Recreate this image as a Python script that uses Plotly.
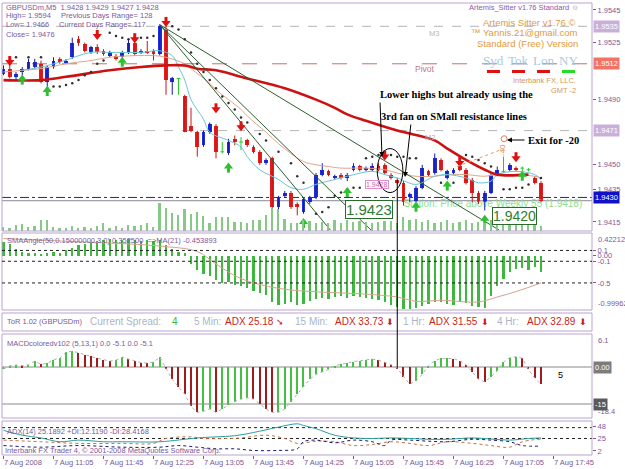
import plotly.graph_objects as go

W, H = 625, 469
ML, MR, MT, MB = 2, 33, 3, 14
PW, PH = W - ML - MR, H - MT - MB


def fx(px):
    return (px - ML) / PW


def fy(py):
    return (H - MB - py) / PH


PURPLE = "#7A5A9A"
FRAME = "#BBA3CF"
SANS = "Liberation Sans"
SERIF = "Liberation Serif"

# ---------------- data ----------------
x_labels = ["7 Aug 2008", "7 Aug 11:05", "7 Aug 11:45", "7 Aug 12:25", "7 Aug 13:05",
            "7 Aug 13:45", "7 Aug 14:25", "7 Aug 15:05", "7 Aug 15:45", "7 Aug 16:25",
            "7 Aug 17:05", "7 Aug 17:45"]
x_label_bars = [0, 8, 16, 24, 32, 40, 48, 56, 64, 72, 80, 88]

opens = [1.9506, 1.9509, 1.9504, 1.9507, 1.9509, 1.9510, 1.9512, 1.9501, 1.9510, 1.9515,
         1.9513, 1.9516, 1.9527, 1.9524, 1.9519, 1.9522, 1.9520, 1.9517, 1.9517, 1.9516,
         1.9519, 1.9525, 1.9519, 1.9520, 1.9520, 1.9518, 1.9533, 1.9501, 1.9503, 1.9492,
         1.9474, 1.9470, 1.9462, 1.9470, 1.9474, 1.9458, 1.9457, 1.9466, 1.9464, 1.9465,
         1.9461, 1.9458, 1.9451, 1.9454, 1.9424, 1.9431, 1.9433, 1.9426, 1.9421, 1.9427,
         1.9430, 1.9444, 1.9446, 1.9442, 1.9444, 1.9442, 1.9447, 1.9449, 1.9447, 1.9447,
         1.9449, 1.9450, 1.9444, 1.9441, 1.9439, 1.9430, 1.9428, 1.9436, 1.9446, 1.9445,
         1.9453, 1.9442, 1.9445, 1.9449, 1.9447, 1.9441, 1.9433, 1.9427, 1.9433, 1.9444,
         1.9446, 1.9447, 1.9448, 1.9448, 1.9447, 1.9442, 1.9439]
highs = [1.9511, 1.9513, 1.9507, 1.9510, 1.9515, 1.9515, 1.9514, 1.9511, 1.9516, 1.9516,
         1.9515, 1.9528, 1.9529, 1.9525, 1.9523, 1.9524, 1.9521, 1.9520, 1.9518, 1.9520,
         1.9527, 1.9527, 1.9521, 1.9526, 1.9521, 1.9536, 1.9535, 1.9504, 1.9503, 1.9493,
         1.9485, 1.9471, 1.9471, 1.9476, 1.9475, 1.9464, 1.9466, 1.9468, 1.9467, 1.9466,
         1.9462, 1.9459, 1.9454, 1.9455, 1.9431, 1.9434, 1.9434, 1.9427, 1.9430, 1.9431,
         1.9445, 1.9451, 1.9447, 1.9444, 1.9445, 1.9445, 1.9451, 1.9450, 1.9449, 1.9451,
         1.9451, 1.9451, 1.9445, 1.9442, 1.9440, 1.9433, 1.9437, 1.9450, 1.9447, 1.9457,
         1.9454, 1.9447, 1.9448, 1.9450, 1.9448, 1.9442, 1.9434, 1.9434, 1.9445, 1.9449,
         1.9455, 1.9451, 1.9449, 1.9449, 1.9448, 1.9443, 1.9440]
lows = [1.9505, 1.9503, 1.9502, 1.9505, 1.9508, 1.9509, 1.9500, 1.9498, 1.9509, 1.9512,
        1.9512, 1.9515, 1.9523, 1.9519, 1.9518, 1.9518, 1.9517, 1.9516, 1.9514, 1.9515,
        1.9518, 1.9517, 1.9518, 1.9518, 1.9514, 1.9517, 1.9493, 1.9493, 1.9493, 1.9470,
        1.9470, 1.9455, 1.9461, 1.9469, 1.9454, 1.9457, 1.9456, 1.9462, 1.9459, 1.9461,
        1.9457, 1.9450, 1.9450, 1.9415, 1.9418, 1.9430, 1.9423, 1.9419, 1.9420, 1.9426,
        1.9429, 1.9443, 1.9443, 1.9441, 1.9441, 1.9440, 1.9446, 1.9446, 1.9446, 1.9446,
        1.9446, 1.9444, 1.9441, 1.9438, 1.9425, 1.9427, 1.9427, 1.9435, 1.9443, 1.9444,
        1.9446, 1.9441, 1.9444, 1.9446, 1.9438, 1.9427, 1.9426, 1.9422, 1.9432, 1.9443,
        1.9445, 1.9446, 1.9446, 1.9446, 1.9446, 1.9438, 1.9427]
closes = [1.9509, 1.9504, 1.9506, 1.9509, 1.9513, 1.9513, 1.9501, 1.9510, 1.9514, 1.9513,
          1.9514, 1.9525, 1.9525, 1.9520, 1.9522, 1.9519, 1.9518, 1.9519, 1.9515, 1.9519,
          1.9525, 1.9518, 1.9520, 1.9519, 1.9518, 1.9535, 1.9502, 1.9503, 1.9503, 1.9470,
          1.9471, 1.9461, 1.9470, 1.9475, 1.9458, 1.9458, 1.9464, 1.9464, 1.9464, 1.9462,
          1.9458, 1.9451, 1.9453, 1.9424, 1.9430, 1.9433, 1.9424, 1.9424, 1.9429, 1.9430,
          1.9444, 1.9447, 1.9444, 1.9443, 1.9442, 1.9444, 1.9449, 1.9447, 1.9448, 1.9449,
          1.9447, 1.9445, 1.9442, 1.9439, 1.9427, 1.9432, 1.9436, 1.9448, 1.9444, 1.9454,
          1.9447, 1.9446, 1.9447, 1.9447, 1.9439, 1.9433, 1.9427, 1.9433, 1.9444, 1.9447,
          1.9446, 1.9450, 1.9447, 1.9448, 1.9447, 1.9439, 1.9428]
volumes = [12, 9, 18, 21, 12, 15, 33, 33, 12, 9, 9, 15, 9, 12, 9, 15, 24, 9, 15, 9,
           18, 15, 18, 24, 12, 84, 69, 54, 48, 66, 51, 57, 45, 24, 42, 42, 42, 27, 27, 24,
           33, 33, 48, 69, 66, 36, 24, 24, 33, 30, 24, 27, 24, 33, 24, 33, 27, 30, 27, 24,
           27, 30, 30, 24, 42, 33, 36, 27, 33, 24, 27, 33, 24, 27, 33, 24, 27, 24, 33, 36,
           24, 21, 24, 18, 24, 21, 15]

ma_red_x = [0, 6, 10, 17, 22, 26, 29, 31, 34, 39, 45, 50, 53, 55, 58, 63, 69, 71, 74, 77, 79, 84]
ma_red_y = [1.9502, 1.9502, 1.9504, 1.9508, 1.9510, 1.9511, 1.9511, 1.9509, 1.9508, 1.9503,
            1.9497, 1.9490, 1.9485, 1.9481, 1.9477, 1.9471, 1.9465, 1.9460, 1.9453, 1.9447,
            1.9444, 1.9444]
cyan_x = [3, 6, 9, 14, 17, 22, 25, 27, 28, 29, 30, 32, 33, 36, 38, 39, 41, 44, 46, 48,
          50, 53, 56, 59, 61, 63, 66, 69, 71, 74, 76, 78, 79, 82, 85, 86]
cyan_y = [1.9508, 1.9510, 1.9513, 1.9519, 1.9519, 1.9519, 1.9520, 1.9517, 1.9510, 1.9502,
          1.9490, 1.9478, 1.9470, 1.9465, 1.9461, 1.9455, 1.9447, 1.9441, 1.9436, 1.9435,
          1.9438, 1.9441, 1.9444, 1.9446, 1.9444, 1.9442, 1.9438, 1.9443, 1.9444, 1.9442,
          1.9439, 1.9440, 1.9444, 1.9446, 1.9444, 1.9441]
tan_x = [0, 3, 6, 10, 14, 17, 21, 24, 26, 29, 30, 33, 34, 36, 38, 39, 42, 44, 46, 48,
         50, 52, 54, 58, 61, 63, 66, 69, 71, 74, 77, 79, 82, 85, 86]
tan_y = [1.9507, 1.9508, 1.9509, 1.9512, 1.9514, 1.9516, 1.9517, 1.9517, 1.9516, 1.9512,
         1.9509, 1.9500, 1.9496, 1.9490, 1.9484, 1.9480, 1.9470, 1.9463, 1.9457, 1.9452,
         1.9450, 1.9449, 1.9448, 1.9448, 1.9447, 1.9445, 1.9443, 1.9443, 1.9444, 1.9444,
         1.9443, 1.9444, 1.9444, 1.9443, 1.9442]

sar_x = [2, 4, 6, 7, 8, 9, 10, 11, 12, 13, 14, 15, 16, 17, 18, 19, 20, 22, 23, 24,
         27, 28, 29, 30, 31, 32, 33, 34, 35, 36, 37, 38, 39, 41, 42, 44, 46, 47, 48, 50,
         51, 52, 53, 54, 55, 56, 57, 58, 59, 60, 61, 62, 63, 64, 65, 66, 70, 71, 72, 74,
         75, 76, 77, 78, 80, 81, 82, 83, 84, 86]
sar_y = [1.9516, 1.9516, 1.9516, 1.9497, 1.9498, 1.9498, 1.9499, 1.9500, 1.9502, 1.9505,
         1.9507, 1.9512, 1.9514, 1.9531, 1.9529, 1.9528, 1.9527, 1.9528, 1.9528, 1.9529,
         1.9535, 1.9533, 1.9527, 1.9519, 1.9512, 1.9507, 1.9502, 1.9497, 1.9492, 1.9488,
         1.9484, 1.9479, 1.9476, 1.9469, 1.9465, 1.9458, 1.9451, 1.9443, 1.9439, 1.9420,
         1.9421, 1.9424, 1.9431, 1.9433, 1.9435, 1.9436, 1.9436, 1.9454, 1.9455, 1.9456,
         1.9456, 1.9456, 1.9455, 1.9455, 1.9454, 1.9454, 1.9439, 1.9438, 1.9439, 1.9456,
         1.9455, 1.9453, 1.9451, 1.9449, 1.9435, 1.9435, 1.9436, 1.9436, 1.9438, 1.9442]

sell_x = [1, 15, 21, 26, 34, 38, 61, 73, 82]
sell_y = [1.9514, 1.9530, 1.9528, 1.9538, 1.9485, 1.9474, 1.9456, 1.9452, 1.9455]
buy_x = [3, 7, 19, 36, 48, 55, 66, 71, 77, 83]
buy_y = [1.9502, 1.9495, 1.9513, 1.9448, 1.9414, 1.9433, 1.9424, 1.9437, 1.9416, 1.9443]

fan_apex_x, fan_apex_y = 25, 1.9536
fan_end_x = [52.3, 58.8, 79.3]
fan_end_y = [1.9410, 1.9410, 1.9410]

sma_vals = [0.25, 0.22, 0.12, 0.08, 0.05, 0.06, 0.04, 0.05, 0.07, 0.06,
            0.10, 0.15, 0.20, 0.22, 0.25, 0.28, 0.30, 0.32, 0.30, 0.30,
            0.32, 0.30, 0.28, 0.30, 0.27, 0.30, 0.20, 0.12, 0.08, 0.05,
            -0.15, -0.27, -0.33, -0.38, -0.45, -0.50, -0.48, -0.53, -0.56, -0.60,
            -0.65, -0.68, -0.72, -0.85, -0.90, -0.88, -0.86, -0.90, -0.88, -0.84,
            -0.80, -0.78, -0.80, -0.76, -0.74, -0.77, -0.74, -0.76, -0.78, -0.80,
            -0.82, -0.86, -0.90, -0.95, -0.98, -0.99, -0.96, -0.92, -0.88, -0.86,
            -0.86, -0.88, -0.90, -0.85, -0.87, -0.92, -0.95, -0.96, -0.75, -0.55,
            -0.42, -0.30, -0.25, -0.22, -0.27, -0.20, -0.30]
sma_ma_x = [0, 10, 20, 25, 31, 34, 38, 44, 51, 57, 63, 66, 70, 76, 79, 82, 86]
sma_ma_y = [0.32, 0.27, 0.22, 0.18, 0.08, -0.15, -0.42, -0.60, -0.67, -0.70, -0.76, -0.84,
            -0.82, -0.85, -0.76, -0.66, -0.50]
sma_levels = [0.1, -0.1, -0.5]
sma_ticks = [0.1, 0.0, -0.1, -0.5]
sma_tick_text = ["0.1", "0.00", "-0.1", "-0.5"]

macd_vals = [-0.8, 0.5, 0.8, 0.6, 0.9, 2.4, 1.1, 1.5, 3.0, 3.5,
             6.0, 6.4, 5.8, 5.0, 4.4, 3.5, 3.0, 2.4, 2.8, 4.0,
             3.2, 2.4, 1.8, 1.6, 2.0, 4.0, -0.5, -5.0, -8.0, -11.0,
             -16.0, -18.4, -18.0, -17.0, -18.4, -17.0, -15.5, -14.0, -13.0, -12.5,
             -13.0, -15.0, -17.0, -18.4, -18.4, -17.0, -14.0, -11.0, -8.0, -5.0,
             -3.0, -2.0, -1.0, 0.5, 1.2, 1.6, 2.2, 2.5, 3.0, 3.2,
             2.8, 2.0, 1.0, -0.5, -4.0, -7.0, -5.5, -3.0, 0.5, 2.5,
             3.5, 3.6, 3.4, 2.5, 1.0, -2.0, -5.0, -6.0, -4.0, -1.5,
             2.0, 3.8, 4.2, 3.5, -1.0, -4.5, -7.0]
macd_levels = [0, -15]

adx_x = [0, 3, 6, 9, 12, 16, 19, 25, 31, 34, 37, 40, 44, 47, 48, 50, 53, 56, 59, 62,
         65, 68, 71, 75, 78, 81, 84, 86]
adx_v = [40, 31, 26, 19, 22, 19, 19, 19, 26, 28, 30, 36, 46, 52, 49, 43, 31, 26, 25, 26,
         25, 23.5, 23.5, 26, 24, 22, 25, 26]
mdi_x = [0, 6, 12, 19, 24, 26, 30, 32, 36, 38, 42, 45, 47, 50, 53, 56, 59, 62, 65, 68,
         71, 75, 78, 81, 83, 86]
mdi_v = [22, 19, 16, 16, 16, 25, 28, 25, 25, 26, 31, 25, 16, 20, 19, 12, 14, 19, 16, 12,
         19, 16, 12, 9, 19, 24]
pdi_x = [0, 6, 12, 19, 25, 28, 31, 34, 37, 40, 44, 47, 48, 50, 53, 56, 59, 61, 62, 65,
         68, 71, 75, 78, 81, 83, 86]
pdi_v = [12, 9, 12, 9, 9, 12, 9, 6, 6, 3, 3, 6, 19, 22, 17, 22, 19, 12, 22, 22,
         20, 19, 23.5, 22, 19, 12, 11]
adx_levels = [45, 25]
adx_ticks = [48, 25, 2]

price_ticks = [1.9545, 1.9525, 1.9490, 1.9450, 1.9435, 1.9415]
price_marks = [1.9535, 1.9512, 1.9471, 1.9430]
price_mark_colors = ["#C9AFD9", "#EF7466", "#C9AFD9", "#1010C8"]
gray_levels = [1.9535, 1.9471]
pivot_level = 1.9512
blue_level = 1.9430
bid_level = 1.9428

# ---------------- figure ----------------
bars = list(range(len(opens)))
D_MAIN = [fy(231), fy(3)]
D_SMA = [fy(310), fy(233)]
D_TOR = [fy(331), fy(313)]
D_MACD = [fy(418), fy(334)]
D_ADX = [fy(455), fy(421)]
PRICE_RANGE = [1.940942, 1.954929]
PX = (PRICE_RANGE[1] - PRICE_RANGE[0]) / 228.0   # price per screen pixel (for glyph sizing)

fig = go.Figure()
NOHOV = dict(hoverinfo="skip", showlegend=False)

# text behind candles
fig.add_trace(go.Scatter(x=[92.6], y=[1.94254], mode="text",
                         text=["Station: Price above Weekly 55 (1.9418)"],
                         textposition="middle left",
                         textfont=dict(family=SANS, size=10, color="#8EE08E"), **NOHOV))

# volumes
fig.add_trace(go.Bar(x=bars, y=volumes, width=0.28, yaxis="y6",
                     marker=dict(color="#86C986", line=dict(width=0)), **NOHOV))

up = [i for i in bars if closes[i] > opens[i] + 1e-9]
dn = [i for i in bars if closes[i] < opens[i] - 1e-9]
dj = [i for i in bars if abs(closes[i] - opens[i]) <= 1e-9]


def wick(idx):
    xs, ys = [], []
    for i in idx:
        xs += [i, i, None]
        ys += [lows[i], highs[i], None]
    return xs, ys


wx, wy = wick(up)
fig.add_trace(go.Scatter(x=wx, y=wy, mode="lines", line=dict(color="#1A1AB0", width=1), **NOHOV))
wx, wy = wick(dn)
fig.add_trace(go.Scatter(x=wx, y=wy, mode="lines", line=dict(color="#C81414", width=1), **NOHOV))
wx, wy = wick(dj)
for i in dj:
    wx += [i - 0.3, i + 0.3, None]
    wy += [opens[i], opens[i], None]
fig.add_trace(go.Scatter(x=wx, y=wy, mode="lines", line=dict(color="#22CC22", width=1), **NOHOV))

fig.add_trace(go.Bar(x=up, base=[opens[i] for i in up], y=[closes[i] - opens[i] for i in up],
                     width=0.62, marker=dict(color="#1E2ED8", line=dict(width=0)), **NOHOV))
fig.add_trace(go.Bar(x=dn, base=[closes[i] for i in dn], y=[opens[i] - closes[i] for i in dn],
                     width=0.62, marker=dict(color="#E41E1E", line=dict(width=0)), **NOHOV))

# moving averages
fig.add_trace(go.Scatter(x=tan_x, y=tan_y, mode="lines", line=dict(color="#E2A586", width=1, shape="spline"), **NOHOV))
fig.add_trace(go.Scatter(x=cyan_x, y=cyan_y, mode="lines", line=dict(color="#66C6D8", width=1, shape="spline"), **NOHOV))
fig.add_trace(go.Scatter(x=ma_red_x, y=ma_red_y, mode="lines", line=dict(color="#CC1111", width=2.6, shape="spline"), **NOHOV))

# fan lines
for ex, ey in zip(fan_end_x, fan_end_y):
    fig.add_trace(go.Scatter(x=[fan_apex_x, ex], y=[fan_apex_y, ey], mode="lines",
                             line=dict(color="#2E5E2E", width=1), **NOHOV))

# parabolic SAR
fig.add_trace(go.Scatter(x=sar_x, y=sar_y, mode="markers",
                         marker=dict(symbol="circle", size=2.5, color="#303030"), **NOHOV))


# signal arrows (stem + head)
def arrow_traces(xs, ys, direction, color):
    sx, sy = [], []
    for x, p in zip(xs, ys):
        if direction == "down":
            sx += [x, x, None]
            sy += [p - 0.5 * PX, p + 4.5 * PX, None]
        else:
            sx += [x, x, None]
            sy += [p + 0.5 * PX, p - 4.5 * PX, None]
    fig.add_trace(go.Scatter(x=sx, y=sy, mode="lines", line=dict(color=color, width=3), **NOHOV))
    hy = [p - 1.5 * PX if direction == "down" else p + 1.5 * PX for p in ys]
    fig.add_trace(go.Scatter(x=xs, y=hy, mode="markers",
                             marker=dict(symbol="triangle-" + direction, size=8, color=color,
                                         line=dict(width=0)), **NOHOV))


arrow_traces(sell_x, sell_y, "down", "#E01010")
arrow_traces(buy_x, buy_y, "up", "#2EC02E")

# trade line and exit mark
fig.add_trace(go.Scatter(x=[72.6, 79.4], y=[1.9449, 1.9459], mode="lines",
                         line=dict(color="#E89A50", width=1, dash="dot"), **NOHOV))
fig.add_trace(go.Scatter(x=[80.1], y=[1.9466], mode="markers",
                         marker=dict(symbol="circle-open", size=6, color="#E08050", line=dict(width=1)), **NOHOV))

# SMA angle panel
fig.add_trace(go.Bar(x=bars, y=sma_vals, width=0.38, yaxis="y2",
                     marker=dict(color="#3CB83C", line=dict(width=0)), **NOHOV))
fig.add_trace(go.Scatter(x=sma_ma_x, y=sma_ma_y, yaxis="y2", mode="lines",
                         line=dict(color="#D4A48E", width=1, shape="spline"), **NOHOV))

# MACD panel
macd_colors = ["#44C044" if (i == 0 or v >= macd_vals[i - 1]) else "#A01C1C"
               for i, v in enumerate(macd_vals)]
fig.add_trace(go.Bar(x=bars, y=macd_vals, width=0.22, yaxis="y4",
                     marker=dict(color=macd_colors, line=dict(width=0)), **NOHOV))
fig.add_trace(go.Scatter(x=bars, y=macd_vals, yaxis="y4", mode="lines",
                         line=dict(color="#B0B0B0", width=1, dash="dot"), **NOHOV))

# ADX panel
fig.add_trace(go.Scatter(x=mdi_x, y=mdi_v, yaxis="y5", mode="lines",
                         line=dict(color="#C87044", width=1, dash="dot", shape="spline"), **NOHOV))
fig.add_trace(go.Scatter(x=pdi_x, y=pdi_v, yaxis="y5", mode="lines",
                         line=dict(color="#18186E", width=1, dash="dot", shape="spline"), **NOHOV))
fig.add_trace(go.Scatter(x=adx_x, y=adx_v, yaxis="y5", mode="lines",
                         line=dict(color="#2A9E9E", width=1, shape="spline"), **NOHOV))

# ---------------- shapes ----------------
shapes = []
for d in (D_MAIN, D_SMA, D_TOR, D_MACD, D_ADX):
    shapes.append(dict(type="rect", xref="paper", yref="paper", x0=0, x1=1, y0=d[0], y1=d[1],
                       line=dict(color=FRAME, width=1), layer="above"))
for lv in gray_levels:
    shapes.append(dict(type="line", xref="paper", yref="y", x0=0, x1=1, y0=lv, y1=lv,
                       line=dict(color="#B4B4B4", width=1, dash="dash"), layer="below"))
shapes.append(dict(type="line", xref="paper", yref="y", x0=0, x1=1, y0=pivot_level, y1=pivot_level,
                   line=dict(color="#C07272", width=1, dash="longdash"), layer="below"))
shapes.append(dict(type="line", xref="paper", yref="y", x0=0, x1=1, y0=blue_level, y1=blue_level,
                   line=dict(color="#24248A", width=1, dash="dashdot"), layer="below"))
shapes.append(dict(type="line", xref="paper", yref="y", x0=0, x1=1, y0=bid_level, y1=bid_level,
                   line=dict(color="#8A8A9A", width=1), layer="below"))
for lv in sma_levels:
    shapes.append(dict(type="line", xref="paper", yref="y2", x0=0, x1=1, y0=lv, y1=lv,
                       line=dict(color="#202020", width=1, dash="dot"), layer="above"))
for lv in macd_levels:
    shapes.append(dict(type="line", xref="paper", yref="y4", x0=0, x1=1, y0=lv, y1=lv,
                       line=dict(color="#8A8A8A", width=1), layer="below"))
for lv in adx_levels:
    shapes.append(dict(type="line", xref="paper", yref="y5", x0=0, x1=1, y0=lv, y1=lv,
                       line=dict(color="#202020", width=1, dash="dot"), layer="below"))
# hand drawn objects
shapes.append(dict(type="line", xref="x", yref="paper", x0=63, x1=63, y0=fy(367), y1=fy(180),
                   line=dict(color="black", width=1)))
shapes.append(dict(type="circle", xref="x", yref="y", x0=59.8, x1=63.9, y0=1.9433, y1=1.9460,
                   line=dict(color="black", width=1)))
# session indicator bars
for (a, b), col in zip([(487, 500), (512, 525), (537, 550), (562, 575)],
                       ["#DD1111", "#DD1111", "#DD1111", "#22DD22"]):
    shapes.append(dict(type="rect", xref="paper", yref="paper", x0=fx(a), x1=fx(b),
                       y0=fy(73), y1=fy(70), fillcolor=col, line=dict(width=0)))

# ---------------- annotations ----------------
ann = []


def txt(s, x, y, size=7.5, color=PURPLE, xanchor="left", family=SANS, **kw):
    d = dict(text=s, x=fx(x), y=fy(y), xref="paper", yref="paper", xanchor=xanchor,
             yanchor="middle", showarrow=False, font=dict(family=family, size=size, color=color))
    d.update(kw)
    ann.append(d)


# header
txt("GBPUSDm,M5  1.9428 1.9429 1.9427 1.9428", 4, 7)
txt("High= 1.9594", 4, 16)
txt("Previous Days Range= 128", 59, 16)
txt("Low= 1.9466", 4, 25)
txt("Current Days Range= 117", 57, 25)
txt("Close= 1.9476", 4, 34)

# top right block
txt("Artemis_Sitter v1.76 Standard \u263A", 581, 8, size=7.5, color="#8A5AAA", xanchor="right")
txt("Artemis Sitter v1.76 \u00A9", 578, 22, size=9.5, color="#E39A3A", xanchor="right")
txt("\u2122 Yannis.21@gmail.com", 580, 32, size=9.5, color="#E39A3A", xanchor="right")
txt("Standard (Free) Version", 580, 43, size=9.5, color="#E39A3A", xanchor="right")
for name, cx in zip(["Syd", "Tok", "Lon", "NY"], [493.5, 518.5, 543.5, 568.5]):
    txt(name, cx, 60, size=13, color="#A6CCE2", xanchor="center", family=SERIF)
txt("Interbank FX, LLC.", 578, 80, size=7.5, color="#D4985A", xanchor="right")
txt("GMT -2", 578, 90, size=7.5, color="#D4985A", xanchor="right")
txt("M3", 427, 33, size=7.5, color="#B8B8B8")
txt("Pivot", 413, 69, size=8.5, color="#C47A7A")
txt("M2", 423, 137, size=7.5, color="#B8A8C8")

# chart notes
txt("<b>Lower highs but already using the</b>", 378, 94, size=10.5, color="black", family=SERIF)
txt("<b>3rd fan on SMall resistance lines</b>", 379, 117, size=10.5, color="black", family=SERIF)
txt("<b>Exit for -20</b>", 526, 140, size=10.5, color="black", family=SERIF)
txt("-40", 502, 150, size=8, color="#E08850", xanchor="center", textangle=-90)
txt("1.9423", 345, 209, size=15, color="#2E7D32", bordercolor="#2A6A2A", borderwidth=1,
    bgcolor="white", borderpad=0)
txt("1.9420", 492, 215.5, size=14, color="#2E7D32", bordercolor="#2A6A2A", borderwidth=1,
    bgcolor="white", borderpad=0)
txt("1.9428", 365, 185, size=7, color="#D060B0", bordercolor="#E090C8", borderwidth=1,
    borderpad=0)

# arrows of the notes
for head, tail in [((382, 157), (380, 101)), ((405, 177), (411, 123)), ((507, 140), (526, 140))]:
    ann.append(dict(x=fx(head[0]), y=fy(head[1]), xref="paper", yref="paper", text="",
                    showarrow=True, ax=tail[0] - head[0], ay=tail[1] - head[1],
                    axref="pixel", ayref="pixel", arrowhead=2, arrowsize=1, arrowwidth=1,
                    arrowcolor="black"))

# sub-window labels
txt("SMAAngle(50,0.15000000,3.0) 0.352500  =>MA(21) -0.453893", 5, 240)
txt("ToR 1.02 (GBPUSDm)", 5, 322)
for s, x, col, sz in [("Current Spread:", 88, "#ABB5C9", 10), ("4", 170, "#30BB30", 10),
                      ("5 Min:", 192, "#ABB5C9", 10), ("ADX 25.18", 223, "#CC1E1E", 10),
                      ("15 Min:", 293, "#ABB5C9", 10), ("ADX 33.73", 333, "#CC1E1E", 10),
                      ("1 Hr:", 401, "#ABB5C9", 10), ("ADX 31.55", 427, "#CC1E1E", 10),
                      ("4 Hr:", 495, "#ABB5C9", 10), ("ADX 32.89", 525, "#CC1E1E", 10)]:
    txt(s, x, 322, size=sz, color=col)
for s, x in [("\u2798", 274), ("\u2B07", 384), ("\u2B07", 479), ("\u2B07", 577)]:
    txt(s, x, 322, size=9, color="#D01818", family="DejaVu Sans")
txt("MACDcoloredv102 (5,13,1) 0.0 -5.1 0.0 -5.1", 5, 343)
txt("5", 556, 375, size=9, color="black")
txt("ADX(14) 25.1892 +DI:12.1190 -DI:28.4168", 5, 431)
txt("Interbank FX Trader 4, \u00A9 2001-2008 MetaQuotes Software Corp.", 3, 450)

# right axis special labels
for v, c in zip(price_marks, price_mark_colors):
    ann.append(dict(text=f"{v:.4f}", x=1, xref="paper", xanchor="left", xshift=1, y=v, yref="y",
                    showarrow=False, bgcolor=c, borderpad=1,
                    font=dict(family=SANS, size=7.5, color="white")))


def edge(s, yref, top, bg=None, color=PURPLE, yv=None):
    d = dict(text=s, x=1, xref="paper", xanchor="left", xshift=4, showarrow=False,
             font=dict(family=SANS, size=7.5, color=color))
    if yv is None:
        d.update(y=1 if top else 0, yref=yref + " domain", yanchor="top" if top else "bottom")
    else:
        d.update(y=yv, yref=yref, yanchor="middle", xshift=1)
    if bg:
        d.update(bgcolor=bg, borderpad=1)
    ann.append(d)


edge("0.422125", "y2", True)
edge("-0.99962", "y2", False)
edge("-9000000", "y3", True)
edge("9000000", "y3", False)
edge("6.1", "y4", True)
edge("-18.4", "y4", False)
edge("0.00", "y4", True, bg="#7C7C7C", color="white", yv=0)
edge("-15", "y4", True, bg="#5A5A5A", color="white", yv=-15)

# ---------------- layout ----------------
tickfont = dict(family=SANS, size=7.5, color=PURPLE)
yax = dict(anchor="x", side="right", showgrid=False, zeroline=False, showline=False,
           ticks="outside", ticklen=3, tickcolor=PURPLE, tickfont=tickfont, fixedrange=True)
yax_nt = {k: v for k, v in yax.items() if k != "ticks"}

fig.update_layout(
    width=W, height=H,
    margin=dict(l=ML, r=MR, t=MT, b=MB, pad=0),
    paper_bgcolor="white", plot_bgcolor="white",
    showlegend=False, barmode="overlay", bargap=0,
    xaxis=dict(domain=[0, 1], range=[-0.24, 94.16], anchor="y5", tickmode="array",
               tickvals=x_label_bars, ticktext=x_labels, ticks="outside", ticklen=3,
               tickcolor=PURPLE, tickfont=tickfont, ticklabelposition="outside right",
               showgrid=False, zeroline=False, showline=False, fixedrange=True),
    yaxis=dict(domain=D_MAIN, range=PRICE_RANGE, tickmode="array",
               tickvals=price_ticks, ticktext=[f"{v:.4f}" for v in price_ticks], **yax),
    yaxis2=dict(domain=D_SMA, range=[-0.99962, 0.422125], tickmode="array",
                tickvals=sma_ticks, ticktext=sma_tick_text, **yax),
    yaxis3=dict(domain=D_TOR, range=[0, 1], showticklabels=False, ticks="", **yax_nt),
    yaxis4=dict(domain=D_MACD, range=[-20.67, 13.38], showticklabels=False, ticks="", **yax_nt),
    yaxis5=dict(domain=D_ADX, range=[-5.4, 57.2], tickmode="array",
                tickvals=adx_ticks, ticktext=[str(v) for v in adx_ticks], **yax),
    yaxis6=dict(overlaying="y", range=[0, 690], visible=False, anchor="x", fixedrange=True),
    shapes=shapes,
    annotations=ann,
)

fig.write_html("out.html", config={"displayModeBar": False})
